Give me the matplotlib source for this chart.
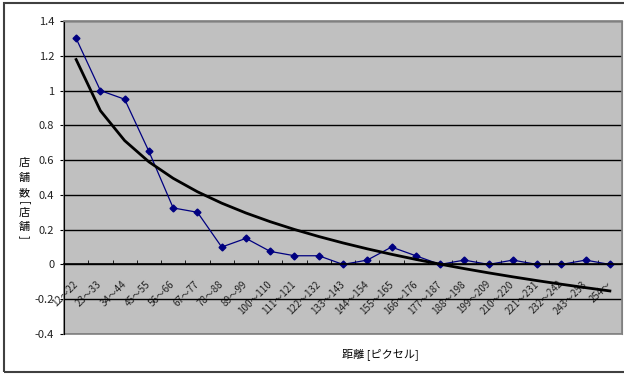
import numpy as np
import matplotlib.pyplot as plt
from matplotlib.patches import Rectangle

plt.rcParams['font.family'] = ['Noto Sans CJK JP', 'DejaVu Sans']

# 距離区間ごとの店舗数
labels = ["12〜22", "23〜33", "34〜44", "45〜55", "56〜66", "67〜77", "78〜88",
          "89〜99", "100〜110", "111〜121", "122〜132", "133〜143", "144〜154",
          "155〜165", "166〜176", "177〜187", "188〜198", "199〜209", "210〜220",
          "221〜231", "232〜242", "243〜253", "254〜"]
counts = [1.3, 1.0, 0.95, 0.65, 0.325, 0.30, 0.10, 0.15, 0.075, 0.05, 0.05,
          0.0, 0.025, 0.10, 0.05, 0.0, 0.025, 0.0, 0.025, 0.0, 0.0, 0.025, 0.0]
yticks = [-0.4, -0.2, 0, 0.2, 0.4, 0.6, 0.8, 1, 1.2, 1.4]
ytick_labels = ["-0.4", "-0.2", "0", "0.2", "0.4", "0.6", "0.8", "1", "1.2", "1.4"]

x = np.arange(len(counts))

# 対数近似曲線
a, b = np.polyfit(np.log(x + 1), counts, 1)
trend = a * np.log(x + 1) + b

fig = plt.figure(figsize=(6.24, 3.74), dpi=100)
ax = fig.add_axes([64 / 624, 1 - 334 / 374, 558 / 624, 313 / 374])
ax.set_facecolor('#c0c0c0')

ax.set_ylim(-0.4, 1.4)
ax.set_xlim(-0.5, len(counts) - 0.5)
ax.set_yticks(yticks)
ax.set_yticklabels(ytick_labels, fontsize=8, color='#222222')
ax.yaxis.grid(True, color='black', linewidth=1)
ax.set_axisbelow(True)

ax.plot(x, counts, color='#000080', linewidth=0.9, marker='D', markersize=3.5)
ax.plot(x, trend, color='black', linewidth=2)

for s in ['left', 'right', 'top']:
    ax.spines[s].set_color('#808080')
ax.spines['left'].set_color('black')
ax.spines['bottom'].set_position(('data', 0))
ax.spines['bottom'].set_color('black')
ax.spines['bottom'].set_linewidth(1.2)
ax.add_patch(Rectangle((0, 0), 1, 1, transform=ax.transAxes, fill=False,
                       edgecolor='#808080', linewidth=1.2, clip_on=False))

ax.tick_params(axis='y', length=3, direction='out', pad=4)
ax.set_xticks(x)
ax.set_xticklabels(labels, fontsize=7, rotation=45, ha='right', va='center',
                   rotation_mode='anchor', color='#222222')
ax.set_xticks(np.arange(-0.5, len(counts)), minor=True)
ax.tick_params(axis='x', which='major', length=0, pad=13)
ax.tick_params(axis='x', which='minor', length=3, direction='in', color='black')

# 軸ラベル
fig.text(380 / 624, 1 - 354 / 374, "距離 [ピクセル]", fontsize=8, ha='center', va='center')
ylab = [("店", 163, 0), ("舗", 178, 0), ("数", 193, 0), ("[", 203, -90),
        ("店", 213, 0), ("舗", 227, 0), ("]", 237, -90)]
for ch, py, rot in ylab:
    fig.text(24 / 624, 1 - py / 374, ch, fontsize=8, ha='center', va='center',
             rotation=rot)

fig.patches.append(Rectangle((4 / 624, 1 - 372 / 374), 640 / 624, 369 / 374,
                             transform=fig.transFigure, fill=False,
                             edgecolor='#404040', linewidth=1.5))

fig.savefig('out.png', dpi=100)
